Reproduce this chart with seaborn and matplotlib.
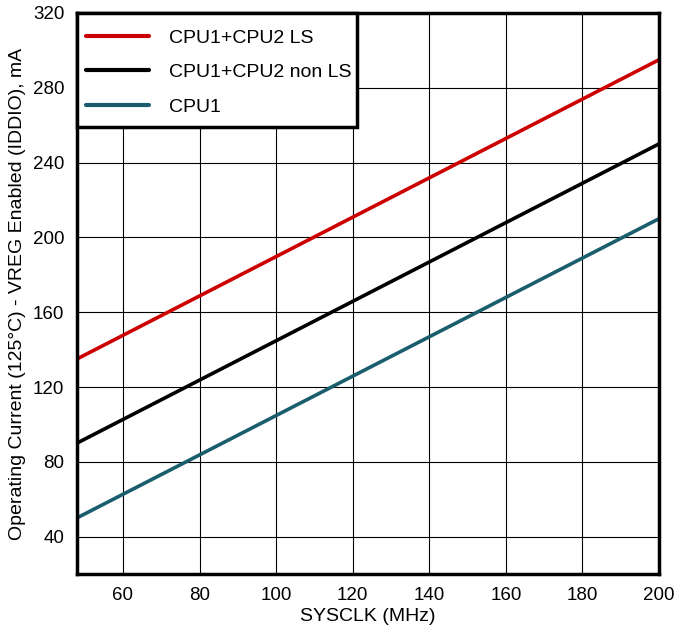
import matplotlib
matplotlib.use("Agg")
import matplotlib.pyplot as plt
from matplotlib.patches import Rectangle
import seaborn as sns
import pandas as pd

sysclk = [48, 200]
cpu12_ls = [135, 295]
cpu12_nonls = [90, 250]
cpu1 = [50, 210]
series_names = ["CPU1+CPU2 LS", "CPU1+CPU2 non LS", "CPU1"]
colors = ["#cc0000", "#000000", "#1a5e6e"]
x_ticks = [60, 80, 100, 120, 140, 160, 180, 200]
y_ticks = [40, 80, 120, 160, 200, 240, 280, 320]

sns.set_style("white")
plt.rcParams['font.family'] = ['Liberation Sans', 'DejaVu Sans']
plt.rcParams['text.color'] = 'black'
plt.rcParams['axes.labelcolor'] = 'black'
plt.rcParams['xtick.color'] = 'black'
plt.rcParams['ytick.color'] = 'black'

df = pd.DataFrame({
    "SYSCLK": sysclk * 3,
    "value": cpu12_ls + cpu12_nonls + cpu1,
    "series": [series_names[0]] * 2 + [series_names[1]] * 2 + [series_names[2]] * 2,
})

fig = plt.figure(figsize=(6.77, 6.25), dpi=100)
ax = fig.add_axes([77/677, 1-574/625, (659-77)/677, (574-13)/625])
sns.lineplot(data=df, x="SYSCLK", y="value", hue="series", hue_order=series_names,
             palette=colors, linewidth=2.6, ax=ax, legend=True)
ax.set_xlim(48, 200)
ax.set_ylim(20, 320)
ax.set_xticks(x_ticks)
ax.set_yticks(y_ticks)
ax.grid(True, color="black", linewidth=0.8)
ax.tick_params(axis="both", length=0, labelsize=13.5, pad=9)
for s in ax.spines.values():
    s.set_linewidth(2.5)
    s.set_color("black")
ax.set_xlabel("SYSCLK (MHz)", fontsize=14, labelpad=3)
ax.set_ylabel("Operating Current (125°C) - VREG Enabled (IDDIO), mA", fontsize=14, labelpad=5)

# legend frame box
frame = Rectangle((0, 1 - 114/561), 280/582, 114/561, transform=ax.transAxes,
                  facecolor="white", edgecolor="black", linewidth=2.5,
                  zorder=4.5, clip_on=False)
ax.add_patch(frame)
leg = ax.legend(loc="upper left", bbox_to_anchor=(9/582, 1 - 16/561), fontsize=14,
                frameon=False, borderaxespad=0, handlelength=3.25, handletextpad=1.0,
                labelspacing=0.87, borderpad=0)
leg.set_zorder(5)
for line in leg.get_lines():
    line.set_linewidth(3)
fig.savefig("out.png", dpi=100)
